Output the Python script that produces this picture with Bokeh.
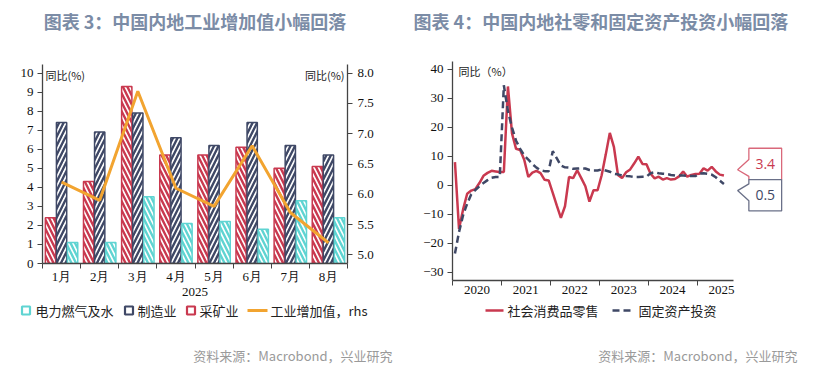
from bokeh.plotting import figure
from bokeh.models import (Range1d, LinearAxis, FixedTicker, Title, Label,
                          PrintfTickFormatter)
from bokeh.core.properties import value
from bokeh.embed import file_html
from bokeh.resources import INLINE

# ---------------- Chart 3 data ----------------
months = ["1月", "2月", "3月", "4月", "5月", "6月", "7月", "8月"]
year_label = "2025"
utilities = [1.1, 1.1, 3.5, 2.1, 2.2, 1.8, 3.3, 2.4]       # 电力燃气及水
manufacturing = [7.4, 6.9, 7.9, 6.6, 6.2, 7.4, 6.2, 5.7]   # 制造业
mining = [2.4, 4.3, 9.3, 5.7, 5.7, 6.1, 5.0, 5.1]          # 采矿业
industrial_va = [6.2, 5.9, 7.7, 6.1, 5.8, 6.8, 5.7, 5.2]   # 工业增加值 rhs
left_ticks = [0, 1, 2, 3, 4, 5, 6, 7, 8, 9, 10]
right_ticks = [5.0, 5.5, 6.0, 6.5, 7.0, 7.5, 8.0]
legend3 = ["电力燃气及水", "制造业", "采矿业", "工业增加值，rhs"]

# ---------------- Chart 4 data ----------------
years = [2020, 2021, 2022, 2023, 2024, 2025]
retail = [8.0, -15.0, -8.3, -2.9, -1.8, -1.3, 0.8, 3.3, 4.3, 5.0, 4.8, 4.6, 4.6,
          34.1, 17.9, 12.6, 12.2, 8.8, 2.9, 4.4, 5.0, 4.2, 1.9, 1.7,
          -2.6, -7.0, -11.2, -7.2, 2.9, 2.5, 5.2, 2.5, -0.3, -5.6, -1.7, -1.7,
          3.5, 10.6, 18.1, 13.3,
          3.6, 2.5, 4.5, 5.5, 7.6, 9.9, 7.4, 7.3, 4.0, 2.4, 3.0, 2.0, 2.5, 2.0,
          2.2, 3.1, 4.8, 3.0, 3.6, 3.9, 4.0, 5.9, 5.1, 6.4, 4.8, 3.7, 3.4]
fai = [-23.5, -16.1, -10.3, -6.3, -3.1, -1.6, -0.3, 0.8, 1.8, 2.6, 2.9,
       2.9,
       34.5, 25.6, 19.9, 15.4, 12.6, 10.3, 8.9, 7.3, 6.1, 5.2, 4.9,
       4.9,
       11.8, 9.3, 6.8, 6.2, 6.1, 5.7, 5.8, 5.9, 5.8, 5.3, 5.1,
       5.1,
       5.5, 5.1, 4.7, 4.0, 3.8, 3.4, 3.2, 3.1, 2.9, 2.9, 3.0,
       3.0,
       4.2, 4.5, 4.2, 4.0, 3.9, 3.6, 3.4, 3.4, 3.4, 3.3, 3.2,
       3.2,
       4.1, 4.2, 4.0, 3.7, 2.8, 1.6, 0.5]
y4_ticks = [-30, -20, -10, 0, 10, 20, 30, 40]
legend4 = ["社会消费品零售", "固定资产投资"]

CJK = "Noto Sans CJK SC"
SERIF = "Liberation Serif"
RED = "#c9394f"
NAVY = "#3f4866"
CYAN = "#5fd4d2"
ORANGE = "#f2a430"
AXIS = "#444444"
TITLE_C = "#7b8ca6"
SRC_C = "#9a9a9a"
SOURCE = "资料来源：Macrobond，兴业研究"

W1, W2 = 404, 418       # widths of the two chart columns
H_TOP, H_BOT = 299, 70  # chart row and legend row heights


def style_axis(ax, tick_out=5):
    ax.axis_line_color = AXIS
    ax.axis_line_width = 1.3
    ax.major_tick_line_color = AXIS
    ax.minor_tick_line_color = None
    ax.major_tick_out = tick_out
    ax.major_tick_in = 0
    ax.major_label_text_font = SERIF
    ax.major_label_text_font_size = "13px"
    ax.major_label_text_color = "#111111"


# ================= Left chart =================
n = len(months)
Y1 = 10.45
p1 = figure(width=W1, height=H_TOP, x_range=Range1d(0.5, n + 0.5),
            y_range=Range1d(0, Y1), output_backend="svg",
            toolbar_location=None, min_border_left=42, min_border_right=57,
            min_border_top=62, min_border_bottom=36)
p1.title = None
p1.outline_line_color = None
p1.xgrid.visible = False
p1.ygrid.visible = False
p1.extra_y_ranges = {"rhs": Range1d(4.858, 8.142)}

bw = 0.27
off = 0.29
xs = [i + 1 for i in range(n)]
hatch = dict(fill_color="white", line_width=1.5, hatch_weight=2.4,
             hatch_scale=9)
p1.vbar(x=[x - off for x in xs], top=mining, width=bw, bottom=0,
        line_color=RED, hatch_pattern="left_diagonal_line", hatch_color=RED,
        **hatch)
p1.vbar(x=xs, top=manufacturing, width=bw, bottom=0, line_color=NAVY,
        hatch_pattern="right_diagonal_line", hatch_color=NAVY, **hatch)
p1.vbar(x=[x + off for x in xs], top=utilities, width=bw, bottom=0,
        line_color=CYAN, hatch_pattern="left_diagonal_line", hatch_color=CYAN,
        **hatch)
p1.line(xs, industrial_va, y_range_name="rhs", line_color=ORANGE,
        line_width=3)

xa = p1.xaxis[0]
style_axis(xa, tick_out=0)
xa.ticker = FixedTicker(ticks=xs, minor_ticks=[x - 0.5 for x in xs] + [n + 0.5])
xa.major_label_overrides = {x: m for x, m in zip(xs, months)}
xa.minor_tick_out = 5
xa.minor_tick_in = 0
xa.minor_tick_line_color = AXIS
xa.major_label_standoff = 0
xa.axis_label = year_label
xa.axis_label_standoff = 1
xa.axis_label_text_font = SERIF
xa.axis_label_text_font_size = "13px"
xa.axis_label_text_font_style = "normal"
xa.axis_label_text_color = "#111111"

ya = p1.yaxis[0]
style_axis(ya)
ya.ticker = FixedTicker(ticks=left_ticks)
ya.major_label_standoff = 4

ra = LinearAxis(y_range_name="rhs", ticker=FixedTicker(ticks=right_ticks),
                formatter=PrintfTickFormatter(format="%.1f"))
style_axis(ra)
ra.major_label_standoff = 5
p1.add_layout(ra, "right")

p1.add_layout(Label(x=0.5, y=Y1, x_offset=3, y_offset=-2, text="同比(%)",
                    text_baseline="top", text_font=CJK,
                    text_font_size="11px", text_color="#222222"))
p1.add_layout(Label(x=n + 0.5, y=Y1, x_offset=-3, y_offset=-2,
                    text="同比(%)", text_align="right", text_baseline="top",
                    text_font=CJK, text_font_size="11px",
                    text_color="#222222"))
p1.add_layout(Title(text=" ", text_font_size="12px"), "above")
p1.add_layout(Title(text="图表 3：中国内地工业增加值小幅回落", align="center",
                    offset=4, text_font=CJK, text_font_size="18px",
                    text_font_style="bold", text_color=TITLE_C), "above")

# ================= Right chart =================
x0 = float(years[0])
x_end = 2026.85
Y2B, Y2T = -32.8, 42.7
p2 = figure(width=W2, height=H_TOP, x_range=Range1d(x0, x_end),
            y_range=Range1d(Y2B, Y2T), output_backend="svg",
            toolbar_location=None, min_border_left=48, min_border_right=35,
            min_border_top=59, min_border_bottom=19)
p2.title = None
p2.outline_line_color = None
p2.xgrid.visible = False
p2.ygrid.visible = False

xr = [x0 + (i + 0.6) / 12 for i in range(len(retail))]
xf = [x0 + (i + 0.6) / 12 for i in range(len(fai))]
p2.line(xr, retail, line_color=RED, line_width=2.5)
p2.line(xf, fai, line_color=NAVY, line_width=2.5, line_dash="7 4")

xa2 = p2.xaxis[0]
style_axis(xa2, tick_out=0)
xa2.ticker = FixedTicker(ticks=[y + 0.5 for y in years], minor_ticks=years)
xa2.major_label_overrides = {y + 0.5: str(y) for y in years}
xa2.bounds = (x0, xr[-1] + 0.2)
xa2.minor_tick_out = 5
xa2.minor_tick_in = 0
xa2.minor_tick_line_color = AXIS
xa2.major_label_standoff = 0

ya2 = p2.yaxis[0]
style_axis(ya2)
ya2.ticker = FixedTicker(ticks=y4_ticks)
ya2.major_label_standoff = 4

p2.add_layout(Label(x=x0, y=Y2T, x_offset=6, y_offset=-1, text="同比（%）",
                    text_baseline="top", text_font=CJK,
                    text_font_size="11px", text_color="#222222"))

# call-out boxes for the latest values
bx0, bx1 = 2026.06, 2026.73
tipx = 2025.83
ret_tip = retail[-1] + 2.0
fai_tip = fai[-1] - 2.3
mid = (ret_tip + fai_tip) / 2 + 0.2
ret_top = mid + 10.8
fai_bot = mid - 10.8
p2.patch([bx0, bx1, bx1, bx0, bx0, tipx, bx0],
         [ret_top, ret_top, mid, mid, ret_tip - 2.3, ret_tip, ret_tip + 3.5],
         fill_color="white", line_color="#d9687a", line_width=1.3)
p2.patch([bx0, bx1, bx1, bx0, bx0, tipx, bx0],
         [mid, mid, fai_bot, fai_bot, fai_tip - 3.5, fai_tip, fai_tip + 2.3],
         fill_color="white", line_color="#6a7088", line_width=1.3)
p2.text(x=[(bx0 + bx1) / 2], y=[(ret_top + mid) / 2],
        text=[f"{retail[-1]:.1f}"], text_align="center",
        text_baseline="middle", text_font=value("Open Sans"),
        text_font_size="14px", text_color=RED)
p2.text(x=[(bx0 + bx1) / 2], y=[(fai_bot + mid) / 2],
        text=[f"{fai[-1]:.1f}"], text_align="center",
        text_baseline="middle", text_font=value("Open Sans"),
        text_font_size="14px", text_color=NAVY)
p2.add_layout(Title(text=" ", text_font_size="10px"), "above")
p2.add_layout(Title(text="图表 4：中国内地社零和固定资产投资小幅回落",
                    align="left", offset=-39, text_font=CJK,
                    text_font_size="18px", text_font_style="bold",
                    text_color=TITLE_C), "above")


# ================= Legend / source strips (pixel coordinates) =========
def strip(x_lo, width):
    s = figure(width=width, height=H_BOT, x_range=Range1d(x_lo, x_lo + width),
               y_range=Range1d(H_TOP + H_BOT, H_TOP), output_backend="svg",
               toolbar_location=None, min_border=0, x_axis_location=None,
               y_axis_location=None)
    s.title = None
    s.outline_line_color = None
    s.xgrid.visible = False
    s.ygrid.visible = False
    return s


LY = 310
txt = dict(text_baseline="middle", text_font=value(CJK),
           text_font_size="13px", text_color="#222222")
src = dict(text_align="right", text_baseline="middle", text_font=value(CJK),
           text_font_size="13px", text_color=SRC_C)

lg1 = strip(0, W1)
sq_x = [25.5, 128.5, 190.5]
lg1.scatter(x=sq_x, y=[LY] * 3, marker="square", size=8, fill_color="white",
            line_color=[CYAN, NAVY, RED], line_width=2.2)
lg1.segment(x0=[247], y0=[LY], x1=[267], y1=[LY], line_color=ORANGE,
            line_width=3)
lg1.text(x=[35, 137, 199, 270], y=[LY] * 4, text=legend3, **txt)
lg1.text(x=[392], y=[355], text=[SOURCE], **src)

lg2 = strip(W1, W2)
lg2.segment(x0=[485], y0=[LY], x1=[503], y1=[LY], line_color=RED,
            line_width=2.5)
lg2.segment(x0=[612], y0=[LY], x1=[634], y1=[LY], line_color=NAVY,
            line_width=2.5, line_dash="7 4")
lg2.text(x=[507, 638], y=[LY] * 2, text=legend4, **txt)
lg2.text(x=[797], y=[355], text=[SOURCE], **src)

html = file_html([p1, p2, lg1, lg2], INLINE)
css = ("<style>body{display:grid;grid-template-columns:%dpx %dpx;"
       "grid-template-rows:%dpx %dpx;margin:0;}</style></head>"
       % (W1, W2, H_TOP, H_BOT))
html = html.replace("</head>", css, 1)
open("out.html", "w").write(html)
